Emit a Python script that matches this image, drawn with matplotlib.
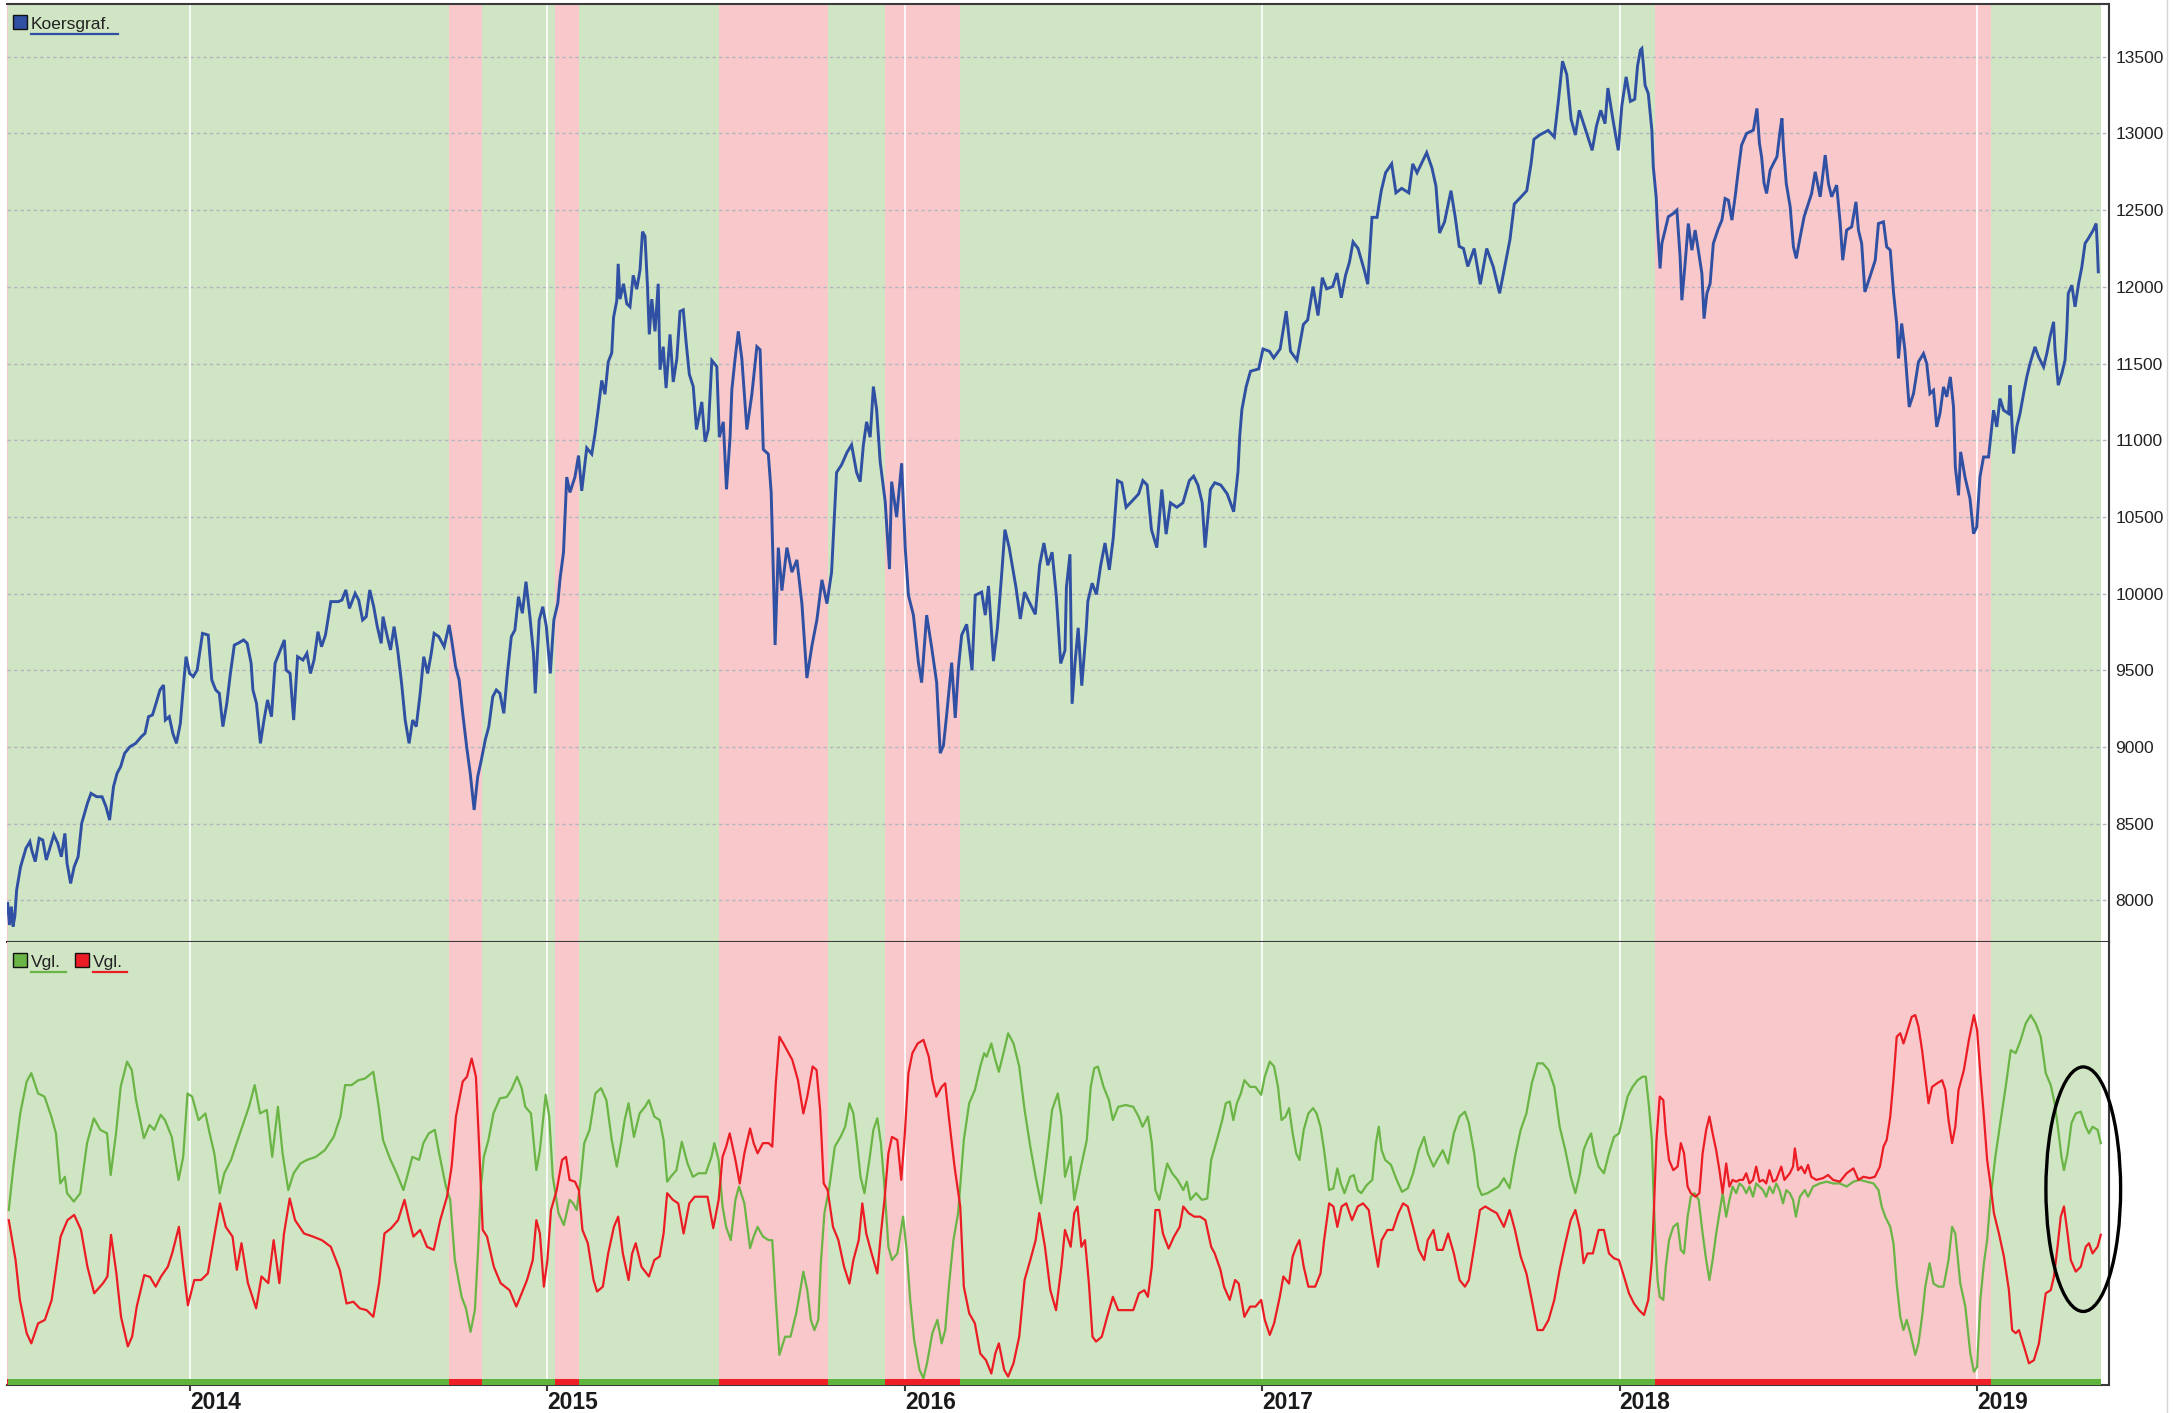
import matplotlib
matplotlib.use("Agg")
import matplotlib.pyplot as plt
from matplotlib.patches import Rectangle, Ellipse
from matplotlib.lines import Line2D
from matplotlib.transforms import blended_transform_factory

# ---------------- data (x in decimal years) ----------------
years = [2014, 2015, 2016, 2017, 2018, 2019]
price_ticks = [8000, 8500, 9000, 9500, 10000, 10500, 11000, 11500, 12000, 12500, 13000, 13500]

regime_start = [2013.486, 2013.490, 2014.724, 2014.818, 2015.022, 2015.089, 2015.481,
                2015.786, 2015.945, 2016.155, 2018.098, 2019.040]
regime_end = [2013.490, 2014.724, 2014.818, 2015.022, 2015.089, 2015.481, 2015.786,
              2015.945, 2016.155, 2018.098, 2019.040, 2019.346]
regime_state = ["down", "up", "down", "up", "down", "up", "down", "up", "down", "up", "down", "up"]

price_pts = [
(2013.490,7980),(2013.495,7840),(2013.500,7960),(2013.505,7830),(2013.510,7900),
(2013.515,8068),(2013.526,8220),(2013.541,8340),(2013.552,8383),(2013.557,8329),
(2013.567,8253),(2013.578,8405),(2013.588,8394),(2013.598,8264),(2013.609,8350),
(2013.619,8427),(2013.630,8372),(2013.640,8285),(2013.650,8437),(2013.656,8242),
(2013.666,8111),(2013.676,8220),(2013.687,8285),(2013.697,8503),(2013.713,8633),
(2013.723,8698),(2013.739,8676),(2013.754,8676),(2013.765,8611),(2013.775,8524),
(2013.786,8742),(2013.796,8829),(2013.806,8872),(2013.817,8959),(2013.832,9002),
(2013.848,9024),(2013.864,9068),(2013.874,9089),(2013.884,9198),(2013.895,9209),
(2013.905,9285),(2013.916,9372),(2013.926,9404),(2013.931,9176),(2013.942,9198),
(2013.952,9089),(2013.962,9024),(2013.973,9154),(2013.983,9437),(2013.989,9589),
(2013.999,9480),(2014.009,9459),(2014.020,9502),(2014.035,9741),(2014.051,9730),
(2014.061,9437),(2014.072,9372),(2014.082,9350),(2014.092,9133),(2014.103,9285),
(2014.113,9480),(2014.124,9665),(2014.134,9676),(2014.150,9698),(2014.160,9676),
(2014.171,9546),(2014.176,9372),(2014.186,9285),(2014.197,9024),(2014.207,9176),
(2014.217,9307),(2014.228,9198),(2014.238,9546),(2014.249,9611),(2014.264,9698),
(2014.269,9502),(2014.280,9480),(2014.290,9176),(2014.301,9589),(2014.316,9567),
(2014.327,9611),(2014.337,9480),(2014.347,9567),(2014.358,9752),(2014.368,9654),
(2014.379,9730),(2014.394,9948),(2014.415,9948),(2014.425,9958),(2014.436,10024),
(2014.446,9904),(2014.462,10002),(2014.472,9958),(2014.483,9828),(2014.493,9850),
(2014.503,10024),(2014.514,9915),(2014.524,9785),(2014.535,9676),(2014.540,9850),
(2014.550,9741),(2014.561,9633),(2014.571,9785),(2014.581,9633),(2014.592,9415),
(2014.602,9176),(2014.613,9024),(2014.623,9176),(2014.633,9133),(2014.644,9350),
(2014.654,9589),(2014.665,9480),(2014.675,9611),(2014.683,9741),(2014.696,9720),
(2014.711,9654),(2014.725,9796),(2014.732,9698),(2014.743,9524),(2014.753,9437),
(2014.763,9220),(2014.774,9002),(2014.784,8829),(2014.795,8590),(2014.805,8807),
(2014.815,8915),(2014.826,9046),(2014.836,9133),(2014.847,9328),(2014.857,9372),
(2014.867,9350),(2014.878,9220),(2014.888,9480),(2014.899,9720),(2014.909,9763),
(2014.919,9980),(2014.930,9872),(2014.940,10078),(2014.951,9850),(2014.961,9611),
(2014.966,9350),(2014.977,9828),(2014.987,9915),(2014.997,9785),(2015.008,9480),
(2015.018,9828),(2015.029,9937),(2015.035,10090),
(2015.045,10270),(2015.054,10760),(2015.063,10660),(2015.077,10760),(2015.087,10900),
(2015.096,10670),(2015.110,10950),(2015.124,10910),(2015.133,11040),(2015.142,11200),
(2015.152,11390),(2015.161,11300),(2015.170,11510),(2015.180,11570),(2015.185,11800),
(2015.194,11910),(2015.198,12150),(2015.203,11920),(2015.213,12020),(2015.222,11890),
(2015.231,11870),(2015.240,12075),(2015.250,11985),(2015.259,12110),(2015.266,12360),
(2015.273,12330),(2015.280,12000),(2015.285,11690),(2015.292,11920),(2015.301,11710),
(2015.310,12020),(2015.315,11460),(2015.324,11610),(2015.332,11340),(2015.343,11690),
(2015.352,11380),(2015.362,11530),(2015.371,11840),(2015.380,11850),(2015.388,11640),
(2015.397,11430),(2015.408,11350),(2015.417,11070),(2015.432,11250),(2015.441,10990),
(2015.450,11070),(2015.460,11520),(2015.474,11480),(2015.481,11020),(2015.492,11120),
(2015.501,10680),(2015.511,11020),(2015.516,11330),(2015.525,11530),(2015.534,11710),
(2015.544,11530),(2015.558,11070),(2015.572,11300),(2015.586,11610),(2015.595,11590),
(2015.604,10940),(2015.618,10910),(2015.626,10660),(2015.632,10140),(2015.637,9665),
(2015.646,10300),(2015.656,10020),(2015.670,10300),(2015.684,10140),(2015.698,10220),
(2015.712,9935),(2015.726,9450),(2015.740,9660),(2015.754,9830),(2015.768,10090),
(2015.782,9935),(2015.795,10140),(2015.809,10790),(2015.823,10840),(2015.838,10920),
(2015.851,10970),(2015.865,10790),(2015.875,10730),(2015.884,10970),(2015.893,11120),
(2015.903,11020),(2015.912,11350),(2015.921,11200),(2015.931,10860),(2015.945,10600),
(2015.957,10160),(2015.963,10730),(2015.977,10500),(2015.991,10850),(2016.001,10300),
(2016.010,9990),(2016.024,9860),(2016.038,9550),(2016.047,9420),(2016.061,9860),
(2016.075,9650),(2016.089,9420),(2016.099,8960),(2016.108,9010),(2016.117,9210),
(2016.131,9550),(2016.141,9190),(2016.150,9520),(2016.159,9730),(2016.173,9800),
(2016.188,9500),(2016.197,9990),(2016.215,10010),(2016.225,9860),(2016.234,10050),
(2016.248,9560),
(2016.259,9777),(2016.270,10097),(2016.280,10417),(2016.292,10300),(2016.311,10040),
(2016.323,9835),(2016.335,10010),(2016.347,9950),(2016.365,9865),(2016.377,10185),
(2016.389,10330),(2016.400,10185),(2016.412,10270),(2016.424,9980),(2016.436,9545),
(2016.448,9630),(2016.452,10040),(2016.462,10257),(2016.468,9282),(2016.476,9545),
(2016.485,9777),(2016.495,9400),(2016.507,9750),(2016.512,9950),(2016.524,10068),
(2016.536,9995),(2016.548,10185),(2016.560,10330),(2016.572,10155),(2016.583,10360),
(2016.595,10737),(2016.607,10723),(2016.619,10563),(2016.637,10607),(2016.654,10650),
(2016.666,10737),(2016.678,10708),(2016.690,10417),(2016.705,10300),(2016.719,10679),
(2016.731,10388),(2016.743,10592),(2016.761,10563),(2016.778,10592),(2016.796,10737),
(2016.808,10766),(2016.820,10708),(2016.832,10592),(2016.840,10300),(2016.855,10679),
(2016.867,10723),(2016.884,10708),(2016.902,10650),(2016.920,10534),(2016.932,10795),
(2016.937,11028),(2016.943,11200),(2016.955,11350),(2016.967,11450),(2016.990,11465),
(2017.002,11595),(2017.020,11580),(2017.032,11537),(2017.050,11595),(2017.067,11842),
(2017.079,11580),(2017.097,11522),(2017.115,11755),(2017.127,11784),(2017.142,12002),
(2017.156,11813),(2017.168,12060),(2017.180,11987),(2017.197,12002),(2017.209,12090),
(2017.221,11929),(2017.233,12075),(2017.244,12162),(2017.254,12293),(2017.268,12250),
(2017.286,12104),(2017.295,12017),(2017.307,12453),(2017.321,12453),(2017.333,12627),
(2017.345,12744),(2017.362,12802),(2017.374,12613),(2017.390,12642),(2017.410,12613),
(2017.421,12802),(2017.433,12744),(2017.445,12802),(2017.460,12875),(2017.475,12773),
(2017.486,12656),(2017.496,12351),(2017.510,12424),(2017.528,12627),(2017.540,12453),
(2017.551,12264),(2017.563,12250),(2017.575,12133),(2017.593,12250),(2017.610,12017),
(2017.628,12250),(2017.646,12133),(2017.664,11958),(2017.676,12104),(2017.693,12308),
(2017.705,12540),(2017.723,12584),(2017.740,12627),(2017.752,12802),(2017.760,12962),
(2017.776,12990),(2017.800,13020),(2017.817,12977),(2017.829,13223),(2017.840,13471),
(2017.852,13384),(2017.864,13093),(2017.876,12990),(2017.887,13151),(2017.905,13020),
(2017.923,12890),(2017.935,13049),(2017.947,13151),(2017.959,13064),(2017.967,13296),
(2017.982,13078),(2017.996,12890),(2018.006,13180),(2018.018,13369),(2018.030,13209),
(2018.042,13223),(2018.050,13441),(2018.058,13544),(2018.062,13554),
(2018.066,13457),(2018.071,13315),(2018.080,13260),(2018.090,13022),(2018.094,12783),
(2018.102,12587),(2018.106,12391),(2018.113,12120),(2018.118,12283),(2018.127,12370),
(2018.136,12457),(2018.150,12478),(2018.160,12500),(2018.169,12196),(2018.174,11913),
(2018.183,12152),(2018.192,12413),(2018.202,12239),(2018.211,12370),(2018.220,12239),
(2018.230,12087),(2018.236,11793),(2018.244,11957),(2018.253,12022),(2018.262,12283),
(2018.276,12380),(2018.286,12435),(2018.295,12576),(2018.304,12565),(2018.314,12435),
(2018.323,12587),(2018.332,12761),(2018.341,12924),(2018.355,13000),(2018.374,13022),
(2018.384,13163),(2018.391,12935),(2018.397,12848),(2018.404,12674),(2018.411,12609),
(2018.421,12761),(2018.430,12804),(2018.440,12848),(2018.449,13022),(2018.454,13098),
(2018.458,12913),(2018.466,12674),(2018.477,12522),(2018.486,12261),(2018.494,12185),
(2018.505,12326),(2018.516,12457),(2018.528,12543),(2018.537,12609),(2018.547,12750),
(2018.561,12587),(2018.575,12859),(2018.584,12674),(2018.593,12587),(2018.607,12663),
(2018.617,12413),(2018.624,12174),(2018.635,12370),(2018.649,12391),(2018.661,12554),
(2018.668,12370),(2018.677,12283),(2018.686,11967),(2018.700,12065),(2018.715,12174),
(2018.724,12413),(2018.738,12424),(2018.747,12261),(2018.757,12239),(2018.766,11967),
(2018.775,11761),(2018.780,11533),(2018.789,11761),(2018.798,11587),(2018.810,11217),
(2018.822,11304),(2018.836,11511),(2018.850,11565),(2018.859,11500),(2018.868,11304),
(2018.878,11326),(2018.887,11087),(2018.896,11174),(2018.906,11348),(2018.915,11283),
(2018.925,11413),(2018.934,11217),(2018.939,10826),(2018.948,10641),(2018.954,10924),
(2018.966,10761),(2018.980,10620),(2018.990,10391),(2018.999,10435),(2019.008,10761),
(2019.018,10891),(2019.032,10891),(2019.046,11196),(2019.055,11087),(2019.064,11272),
(2019.074,11196),(2019.088,11174),(2019.092,11359),(2019.102,10913),(2019.111,11087),
(2019.120,11174),(2019.130,11304),(2019.139,11413),(2019.148,11500),(2019.162,11609),
(2019.172,11543),(2019.186,11478),(2019.195,11565),(2019.204,11674),(2019.214,11772),
(2019.218,11587),(2019.227,11359),(2019.237,11435),(2019.246,11522),(2019.251,11717),
(2019.255,11957),(2019.265,12011),(2019.274,11870),(2019.284,12022),(2019.293,12130),
(2019.302,12283),(2019.311,12315),(2019.325,12370),(2019.333,12413),(2019.336,12283),
(2019.339,12098),
]

green_pts = [
(2013.493,39.5),(2013.506,49.3),(2013.525,61.3),(2013.543,68.5),(2013.556,70.4),
(2013.575,65.8),(2013.593,65.1),(2013.612,60.6),(2013.625,56.8),(2013.637,45.5),
(2013.650,47.0),(2013.656,43.3),(2013.675,41.4),(2013.693,43.3),(2013.712,54.6),
(2013.731,60.2),(2013.749,57.6),(2013.768,56.8),(2013.778,47.4),(2013.793,56.8),
(2013.806,67.3),(2013.824,73.0),(2013.837,71.1),(2013.849,64.3),(2013.871,55.7),
(2013.887,58.7),(2013.900,57.6),(2013.918,61.0),(2013.930,59.8),(2013.949,56.0),
(2013.968,46.3),(2013.981,51.5),(2013.993,65.8),(2014.006,65.1),(2014.024,59.8),
(2014.043,61.3),(2014.055,56.8),(2014.068,52.3),(2014.083,43.3),(2014.096,47.8),
(2014.115,50.8),(2014.127,53.8),(2014.146,58.3),(2014.165,62.8),(2014.181,67.7),
(2014.196,61.3),(2014.215,62.1),(2014.230,51.5),(2014.246,62.8),(2014.259,52.3),
(2014.275,44.0),(2014.290,47.8),(2014.309,50.0),(2014.327,50.8),(2014.352,51.5),
(2014.377,53.0),(2014.402,56.0),(2014.421,60.6),(2014.434,67.7),(2014.452,67.7),
(2014.471,68.8),(2014.490,69.2),(2014.513,70.7),(2014.528,62.8),(2014.540,55.3),
(2014.559,51.2),(2014.578,47.8),(2014.597,44.0),(2014.610,47.8),(2014.622,51.5),
(2014.641,50.8),(2014.653,54.6),(2014.668,56.8),(2014.685,57.6),(2014.697,52.3),
(2014.716,44.8),(2014.728,41.8),(2014.741,28.2),(2014.760,19.9),(2014.772,17.3),
(2014.785,12.0),(2014.797,16.9),(2014.806,30.5),(2014.814,44.8),(2014.822,51.5),
(2014.835,55.3),(2014.849,61.3),(2014.867,64.7),(2014.886,65.0),(2014.899,66.6),
(2014.915,69.6),
(2014.928,67.0),(2014.938,62.8),(2014.954,61.3),(2014.969,48.5),(2014.979,53.0),
(2014.995,65.5),(2015.005,60.6),(2015.015,47.0),(2015.031,38.8),(2015.046,36.1),
(2015.062,41.8),(2015.072,41.0),(2015.082,39.5),(2015.093,46.3),(2015.103,54.6),
(2015.118,57.6),(2015.134,65.8),(2015.150,67.0),(2015.165,64.3),(2015.180,55.3),
(2015.194,49.3),(2015.206,54.6),(2015.216,59.8),(2015.227,63.6),(2015.242,56.0),
(2015.258,61.3),(2015.273,62.8),(2015.284,64.3),(2015.299,60.6),(2015.314,59.8),
(2015.325,55.3),(2015.335,45.9),(2015.345,47.0),(2015.361,48.5),(2015.376,54.9),
(2015.392,50.0),(2015.407,47.0),(2015.423,47.8),(2015.443,47.8),(2015.459,51.5),
(2015.467,54.6),(2015.479,50.8),(2015.490,40.3),(2015.500,35.7),(2015.513,32.7),
(2015.526,41.8),(2015.536,44.8),(2015.551,41.0),(2015.567,30.9),(2015.577,33.5),
(2015.588,35.7),(2015.603,33.5),(2015.619,32.7),(2015.629,32.7),(2015.639,19.2),
(2015.649,6.8),(2015.665,10.9),(2015.680,10.9),(2015.696,16.2),(2015.706,20.7),
(2015.716,25.6),(2015.727,21.4),(2015.737,14.7),(2015.747,12.4),(2015.758,14.7),
(2015.765,27.5),(2015.775,38.8),(2015.789,44.8),(2015.804,53.8),(2015.820,56.0),
(2015.833,58.3),(2015.845,63.6),(2015.856,61.3),(2015.866,54.6),(2015.876,47.0),
(2015.887,43.3),(2015.902,51.5),(2015.912,57.6),(2015.923,60.2),(2015.933,54.6),
(2015.943,44.8),(2015.954,31.2),(2015.964,28.2),(2015.979,29.7),(2015.995,38.0),
(2016.005,30.5),(2016.015,19.2),(2016.026,10.2),(2016.041,3.4),(2016.052,1.5),
(2016.062,4.9),(2016.077,11.7),(2016.091,14.7),(2016.103,9.4),(2016.113,12.4),
(2016.124,22.9),(2016.136,32.7),(2016.149,38.8),(2016.165,55.3),(2016.180,63.6),
(2016.196,66.6),(2016.211,71.9),(2016.222,74.9),(2016.229,74.1),(2016.242,77.1),
(2016.253,73.4),(2016.263,70.7),(2016.278,75.6),(2016.289,79.4),(2016.304,77.1),
(2016.320,71.9),(2016.335,62.1),(2016.351,53.8),(2016.366,47.0),(2016.381,41.0),
(2016.397,51.5),(2016.412,62.1),(2016.428,65.8),(2016.438,60.6),(2016.448,47.0),
(2016.464,51.5),(2016.474,41.8),
(2016.493,49.3),(2016.509,55.3),(2016.520,67.3),(2016.530,71.5),(2016.540,71.9),
(2016.556,67.3),(2016.571,64.3),(2016.582,59.8),(2016.597,62.8),(2016.618,63.2),
(2016.639,62.8),(2016.654,60.6),(2016.665,58.3),(2016.680,60.6),(2016.691,54.6),
(2016.701,44.0),(2016.712,41.8),(2016.724,46.3),(2016.734,50.0),(2016.748,47.8),
(2016.763,46.3),(2016.779,44.0),(2016.789,45.9),(2016.799,41.8),(2016.815,43.3),
(2016.831,41.8),(2016.846,42.1),(2016.857,50.8),(2016.873,55.3),(2016.888,59.8),
(2016.898,63.6),(2016.909,64.0),(2016.919,59.8),(2016.929,63.6),(2016.940,65.8),
(2016.950,68.8),(2016.966,67.3),(2016.981,67.3),(2016.997,65.5),(2017.007,69.6),
(2017.021,73.0),(2017.033,71.9),(2017.044,67.3),(2017.054,59.8),(2017.065,60.6),
(2017.075,62.5),(2017.085,56.8),(2017.095,52.3),(2017.104,50.8),(2017.116,57.6),
(2017.129,61.3),(2017.142,62.5),(2017.152,61.3),(2017.163,58.3),(2017.173,53.0),
(2017.187,44.0),(2017.199,44.4),(2017.210,48.9),(2017.220,45.5),(2017.230,43.3),
(2017.246,47.0),(2017.256,47.4),(2017.267,44.0),(2017.277,43.3),(2017.292,45.1),
(2017.308,46.3),(2017.318,54.6),(2017.326,58.3),(2017.334,53.0),(2017.344,50.8),
(2017.360,49.7),(2017.376,46.3),(2017.391,43.6),(2017.407,44.4),(2017.422,47.8),
(2017.438,53.0),(2017.453,56.0),(2017.463,52.3),(2017.479,49.3),(2017.489,50.8),
(2017.505,53.0),(2017.520,50.0),(2017.536,56.8),(2017.552,60.6),(2017.567,61.7),
(2017.578,59.1),(2017.593,52.3),(2017.604,44.8),(2017.614,42.9),(2017.630,43.3),
(2017.645,44.0),(2017.661,44.8),(2017.676,46.7),(2017.692,44.4),(2017.707,51.5),
(2017.723,57.6),(2017.739,61.3),(2017.754,68.1),(2017.770,72.6),(2017.785,72.6),
(2017.801,71.1),(2017.817,67.3),(2017.832,58.3),(2017.848,53.0),(2017.863,47.0),
(2017.876,43.3),(2017.889,47.8),(2017.899,53.0),(2017.910,55.3),(2017.920,56.8),
(2017.930,52.3),(2017.941,49.3),
(2017.956,47.8),(2017.970,52.3),(2017.984,56.0),(2017.998,56.8),(2018.007,59.8),
(2018.022,65.1),(2018.036,67.3),(2018.050,68.8),(2018.064,69.6),(2018.073,69.6),
(2018.082,62.8),(2018.090,55.3),(2018.094,44.8),(2018.099,34.2),(2018.106,23.7),
(2018.112,19.9),(2018.122,19.2),(2018.129,26.7),(2018.138,32.7),(2018.150,35.7),
(2018.162,36.5),(2018.171,30.5),(2018.180,29.7),(2018.190,38.0),(2018.199,42.5),
(2018.209,43.3),(2018.221,41.8),(2018.232,34.2),(2018.242,28.2),(2018.251,23.7),
(2018.260,28.2),(2018.270,34.2),(2018.279,38.8),(2018.288,43.3),(2018.298,38.0),
(2018.307,41.8),(2018.316,44.8),(2018.326,43.3),(2018.335,45.5),(2018.345,44.8),
(2018.354,43.3),(2018.363,44.8),(2018.373,42.5),(2018.382,45.5),(2018.391,44.8),
(2018.401,44.0),(2018.410,42.5),(2018.419,44.8),(2018.429,43.3),(2018.438,45.5),
(2018.447,44.0),(2018.457,41.0),(2018.466,44.0),(2018.476,43.3),(2018.485,41.8),
(2018.493,38.0),(2018.504,42.5),(2018.518,44.0),(2018.527,42.5),(2018.541,44.8),
(2018.560,45.5),(2018.579,45.9),(2018.597,45.5),(2018.616,45.5),(2018.635,44.8),
(2018.654,45.9),(2018.672,46.3),(2018.691,45.9),(2018.710,45.5),(2018.724,44.0),
(2018.733,40.3),(2018.743,38.0),(2018.757,35.7),(2018.766,32.0),(2018.775,22.9),
(2018.785,15.4),(2018.794,12.4),(2018.803,14.7),(2018.813,11.7),(2018.827,6.8),
(2018.836,9.4),(2018.846,15.4),(2018.855,22.2),(2018.867,27.5),(2018.878,22.9),
(2018.892,22.2),(2018.906,22.2),(2018.920,28.2),(2018.930,35.7),(2018.939,34.2),
(2018.953,22.9),(2018.967,17.7),(2018.981,7.1),(2018.991,3.0),(2019.000,4.1),
(2019.009,19.2),(2019.019,27.5),(2019.028,32.7),(2019.037,41.8),(2019.051,51.5),
(2019.066,59.8),(2019.080,67.3),(2019.094,75.6),(2019.108,74.9),(2019.122,77.9),
(2019.136,81.6),(2019.150,83.5),(2019.164,81.6),(2019.178,78.6),(2019.192,70.4),
(2019.206,67.7),(2019.217,63.6),(2019.227,57.6),(2019.236,51.5),(2019.243,48.5),
(2019.253,52.3),(2019.264,59.1),(2019.276,61.3),(2019.290,61.7),(2019.304,58.3),
(2019.313,56.8),(2019.323,58.3),(2019.337,57.6),(2019.346,54.6),
]

red_pts = [
(2013.493,37.2),(2013.512,28.2),(2013.524,19.2),(2013.543,11.7),(2013.556,9.4),
(2013.575,13.9),(2013.594,14.7),(2013.613,19.2),(2013.626,26.7),(2013.638,33.5),
(2013.657,37.2),(2013.676,38.4),(2013.695,35.0),(2013.713,26.7),(2013.732,20.7),
(2013.757,23.0),(2013.769,24.5),(2013.779,33.9),(2013.794,25.2),(2013.807,15.4),
(2013.826,8.7),(2013.838,10.9),(2013.851,17.7),(2013.872,24.8),(2013.888,24.4),
(2013.904,22.2),(2013.919,24.5),(2013.938,26.7),(2013.950,29.7),(2013.969,35.7),
(2013.981,26.7),(2013.994,18.0),(2014.012,23.7),(2014.031,23.7),(2014.050,25.2),
(2014.069,34.2),(2014.084,41.0),(2014.100,35.7),(2014.119,33.5),(2014.131,26.0),
(2014.144,32.0),(2014.162,23.0),(2014.185,17.3),(2014.200,24.5),(2014.219,23.0),
(2014.234,32.7),(2014.250,23.0),(2014.263,34.2),(2014.279,42.1),(2014.294,37.2),
(2014.319,34.2),(2014.344,33.5),(2014.369,32.7),(2014.394,31.2),(2014.419,26.0),
(2014.438,18.4),(2014.457,18.8),(2014.475,17.3),(2014.494,16.9),(2014.513,15.4),
(2014.529,23.0),(2014.544,34.2),(2014.563,35.4),(2014.582,37.2),(2014.600,41.8),
(2014.613,37.2),(2014.625,33.5),(2014.644,35.0),(2014.663,31.2),(2014.682,30.5),
(2014.700,37.2),(2014.719,42.5),(2014.732,49.3),(2014.744,60.6),(2014.763,68.5),
(2014.775,69.6),(2014.788,73.7),(2014.800,69.6),(2014.809,53.8),(2014.819,35.0),
(2014.831,33.5),(2014.850,26.7),(2014.869,23.0),(2014.894,21.4),(2014.913,17.7),
(2014.928,20.7),(2014.943,23.7),(2014.959,28.2),(2014.969,37.2),(2014.979,34.2),
(2014.990,22.2),(2015.000,28.2),(2015.010,39.5),(2015.026,44.0),(2015.041,50.8),
(2015.052,51.5),(2015.062,46.3),(2015.077,45.9),(2015.088,44.0),(2015.098,35.0),
(2015.113,32.0),(2015.129,23.7),(2015.139,21.1),(2015.155,22.2),(2015.170,29.7),
(2015.186,35.7),(2015.198,38.0),(2015.211,29.7),(2015.227,23.7),(2015.237,29.7),
(2015.247,32.0),(2015.263,26.7),(2015.284,24.5),(2015.299,28.2),(2015.314,29.0),
(2015.325,34.2),(2015.335,43.3),(2015.351,41.8),(2015.366,41.0),(2015.381,34.2),
(2015.397,41.0),(2015.412,42.5),(2015.433,42.5),(2015.448,42.5),(2015.464,35.4),
(2015.479,41.8),(2015.490,51.5),(2015.500,53.8),(2015.510,56.8),(2015.526,50.8),
(2015.538,45.5),(2015.551,52.3),(2015.567,57.9),(2015.577,54.6),(2015.588,52.3),
(2015.603,54.6),(2015.619,54.6),(2015.629,53.8),(2015.639,68.1),(2015.649,78.6),
(2015.660,77.1),(2015.670,75.6),(2015.685,73.4),(2015.701,68.8),(2015.716,61.3),
(2015.727,65.1),(2015.742,71.9),(2015.753,71.1),(2015.763,62.1),(2015.773,45.5),
(2015.784,44.0),(2015.799,35.7),(2015.814,32.7),(2015.830,26.7),(2015.845,22.9),
(2015.856,28.2),(2015.871,32.7),(2015.881,41.0),(2015.892,34.2),(2015.907,29.7),
(2015.923,25.2),(2015.933,34.2),(2015.943,41.8),(2015.954,52.3),(2015.964,56.0),
(2015.979,55.3),(2015.990,46.3),(2016.000,56.8),(2016.010,70.4),(2016.021,74.9),
(2016.036,77.1),(2016.052,77.9),(2016.067,74.1),(2016.077,68.8),(2016.088,65.1),
(2016.103,67.3),(2016.113,68.1),(2016.124,59.8),(2016.139,49.3),(2016.155,40.3),
(2016.165,22.2),(2016.180,16.2),(2016.196,13.9),(2016.211,7.1),(2016.227,5.6),
(2016.242,2.6),(2016.253,7.1),(2016.263,9.4),(2016.278,3.4),(2016.289,1.9),
(2016.304,4.9),(2016.320,10.9),(2016.335,23.7),(2016.351,28.2),(2016.366,32.7),
(2016.376,38.8),(2016.392,31.2),(2016.407,21.4),(2016.423,16.9),(2016.438,26.7),
(2016.448,35.0),(2016.464,31.2),(2016.474,38.8),
(2016.483,40.3),(2016.494,31.2),(2016.504,32.7),(2016.515,22.9),(2016.525,10.9),
(2016.535,9.8),(2016.551,10.9),(2016.566,15.4),(2016.582,19.9),(2016.597,16.9),
(2016.618,16.9),(2016.639,16.9),(2016.655,20.7),(2016.670,21.4),(2016.680,19.9),
(2016.691,26.7),(2016.701,39.5),(2016.712,39.5),(2016.722,34.2),(2016.738,30.8),
(2016.753,33.5),(2016.769,35.7),(2016.779,40.3),(2016.794,38.8),(2016.810,38.0),
(2016.826,38.0),(2016.841,37.2),(2016.857,31.2),(2016.867,29.7),(2016.883,26.0),
(2016.893,22.2),(2016.909,19.2),(2016.924,23.7),(2016.934,22.9),(2016.950,15.4),
(2016.966,17.7),(2016.981,17.7),(2016.997,19.2),(2017.007,14.7),(2017.021,11.3),
(2017.033,13.9),(2017.049,19.9),(2017.059,24.5),(2017.075,22.9),(2017.085,29.0),
(2017.095,31.2),(2017.104,32.7),(2017.116,26.7),(2017.129,22.2),(2017.148,22.2),
(2017.163,25.2),(2017.173,32.7),(2017.187,41.0),(2017.199,40.3),(2017.210,35.7),
(2017.222,40.3),(2017.235,41.0),(2017.251,37.2),(2017.267,40.3),(2017.282,41.0),
(2017.298,39.5),(2017.308,34.2),(2017.324,26.7),(2017.334,32.7),(2017.350,35.0),
(2017.365,35.0),(2017.381,38.8),(2017.394,41.0),(2017.407,40.3),(2017.422,35.7),
(2017.438,30.5),(2017.453,28.2),(2017.463,32.7),(2017.479,35.0),(2017.489,30.5),
(2017.505,30.5),(2017.520,34.2),(2017.536,29.7),(2017.552,23.7),(2017.567,22.2),
(2017.578,23.7),(2017.593,31.2),(2017.609,39.5),(2017.624,40.3),(2017.640,39.5),
(2017.656,38.8),(2017.676,35.7),(2017.692,39.5),(2017.707,35.0),(2017.723,29.0),
(2017.739,25.2),(2017.754,19.2),(2017.770,12.4),(2017.785,12.4),(2017.801,14.7),
(2017.817,19.2),(2017.832,26.0),(2017.848,32.0),(2017.863,37.2),(2017.876,39.5),
(2017.889,35.0),(2017.899,27.5),(2017.910,29.7),(2017.925,29.7),(2017.941,35.0),
(2017.956,35.0),(2017.970,29.7),(2017.984,28.6),(2017.998,28.2),(2018.012,24.5),
(2018.026,20.7),(2018.040,18.4),(2018.054,16.9),(2018.068,15.8),(2018.080,19.2),
(2018.090,28.2),(2018.096,40.3),(2018.103,55.3),(2018.112,65.1),(2018.122,64.3),
(2018.129,56.8),(2018.138,50.8),(2018.150,48.5),(2018.162,49.3),(2018.171,54.6),
(2018.180,52.3),(2018.190,44.8),(2018.199,43.3),(2018.212,42.5),(2018.223,43.3),
(2018.232,52.3),(2018.242,57.6),(2018.251,60.6),(2018.260,56.8),(2018.270,53.0),
(2018.279,48.5),(2018.288,43.3),(2018.298,50.0),(2018.307,44.8),(2018.316,46.3),
(2018.326,45.9),(2018.335,46.3),(2018.345,46.3),(2018.354,47.8),(2018.363,45.5),
(2018.373,46.3),(2018.382,49.3),(2018.391,45.9),(2018.401,46.3),(2018.410,45.5),
(2018.419,48.5),(2018.429,45.9),(2018.438,46.3),(2018.452,49.3),(2018.461,46.3),
(2018.476,47.8),(2018.485,49.3),(2018.490,53.4),(2018.499,48.5),(2018.508,49.3),
(2018.518,47.8),(2018.527,49.7),(2018.536,47.0),(2018.550,46.3),(2018.569,46.7),
(2018.583,47.4),(2018.597,46.3),(2018.616,45.9),(2018.635,47.8),(2018.654,48.9),
(2018.668,46.3),(2018.682,47.0),(2018.700,46.7),(2018.714,47.0),(2018.728,49.3),
(2018.738,53.8),(2018.747,55.3),(2018.757,60.6),(2018.766,68.8),(2018.775,78.6),
(2018.785,79.4),(2018.794,77.1),(2018.803,79.4),(2018.817,83.1),(2018.827,83.5),
(2018.836,80.9),(2018.846,75.6),(2018.855,69.6),(2018.864,63.6),(2018.874,67.3),
(2018.888,68.1),(2018.902,68.8),(2018.911,66.6),(2018.920,59.8),(2018.930,54.6),
(2018.939,58.3),(2018.948,66.6),(2018.963,71.1),(2018.977,77.9),(2018.991,83.5),
(2019.000,80.1),(2019.009,70.4),(2019.019,60.6),(2019.028,50.8),(2019.037,45.5),
(2019.047,38.8),(2019.061,34.2),(2019.075,29.0),(2019.089,21.4),(2019.098,12.4),
(2019.108,11.7),(2019.117,12.4),(2019.131,8.7),(2019.145,4.9),(2019.159,5.6),
(2019.173,9.4),(2019.183,15.4),(2019.192,20.7),(2019.206,21.4),(2019.215,24.5),
(2019.225,31.2),(2019.234,38.0),(2019.243,40.3),(2019.253,34.2),(2019.262,28.2),
(2019.276,25.6),(2019.290,26.7),(2019.304,31.2),(2019.313,32.0),(2019.323,29.7),
(2019.337,31.2),(2019.346,33.9),
]

price_t, price_v = zip(*price_pts)
green_t, green_v = zip(*green_pts)
red_t, red_v = zip(*red_pts)

# ---------------- style ----------------
plt.rcParams['font.family'] = ['Liberation Sans', 'DejaVu Sans']
BG_UP, BG_DOWN = '#d0e5c3', '#f8c8cb'
BAR_UP, BAR_DOWN = '#5fb43d', '#ee1f26'
BLUE, GREEN, RED = '#2f50a3', '#6ab545', '#ec1c24'
SPINE = '#3a3a3a'

W, H = 2174, 1413
fig = plt.figure(figsize=(W / 100, H / 100), dpi=100)
fig.patch.set_facecolor('white')

L, R = 7, 2109
ax1 = fig.add_axes([L / W, 1 - 942 / H, (R - L) / W, 938 / H])
ax2 = fig.add_axes([L / W, 1 - 1385 / H, (R - L) / W, 443 / H])

XMIN, XMAX = 2013.488, 2019.369
for ax in (ax1, ax2):
    ax.set_xlim(XMIN, XMAX)
    ax.set_facecolor('white')
    for s, e, st in zip(regime_start, regime_end, regime_state):
        ax.axvspan(s, e, color=BG_UP if st == 'up' else BG_DOWN, lw=0, zorder=0)
    for y in years:
        ax.axvline(y, color='white', lw=1.2, zorder=1)
    ax.spines['left'].set_visible(False)
    for sp in ('top', 'right', 'bottom'):
        ax.spines[sp].set_color(SPINE)
        ax.spines[sp].set_linewidth(1.5)

# bottom regime bar
for s, e, st in zip(regime_start, regime_end, regime_state):
    ax2.axvspan(s, e, ymin=0, ymax=0.0135, color=BAR_UP if st == 'up' else BAR_DOWN,
                lw=0, zorder=4)

# ---------------- upper panel ----------------
ax1.set_ylim(7729, 13844)
ax1.plot(price_t, price_v, color=BLUE, lw=2.1, zorder=3, solid_joinstyle='miter')
ax1.set_yticks(price_ticks)
ax1.set_yticklabels([str(v) for v in price_ticks])
ax1.yaxis.tick_right()
ax1.tick_params(axis='y', length=0, pad=4.5, labelsize=12.5, labelcolor='#222222')
ax1.tick_params(axis='x', bottom=False, labelbottom=False)
ax1.set_axisbelow(True)
ax1.grid(axis='y', color='#b4b6bf', lw=1.0, ls=(0, (2.5, 2.2)))

# ---------------- lower panel ----------------
ax2.set_ylim(0, 100)
ax2.plot(green_t, green_v, color=GREEN, lw=1.6, zorder=3)
ax2.plot(red_t, red_v, color=RED, lw=1.6, zorder=3)
ax2.set_yticks([])
ax2.spines['top'].set_visible(False)
ax2.set_xticks(years)
ax2.set_xticklabels([])
ax2.tick_params(axis='x', length=4, width=1.5, color=SPINE)

trans = blended_transform_factory(ax2.transData, fig.transFigure)
for y in years:
    ax2.text(y, 1 - 1391 / H, str(y), transform=trans, ha='left', va='top',
             fontsize=16.5, fontweight='bold', color='#1a1a1a', clip_on=False)

ax2.add_patch(Ellipse((2019.297, 44.2), 0.209, 55.2, fill=False, ec='black', lw=2.4,
                      clip_on=False, zorder=6))

# ---------------- legends ----------------
def fx(x):
    return x / W

def fy(y):
    return 1 - y / H

def legend_item(x, y_top, color, label, underline_end):
    fig.add_artist(Rectangle((fx(x), fy(y_top + 14)), 14 / W, 14 / H, transform=fig.transFigure,
                             facecolor=color, edgecolor='#111111', lw=1.0))
    fig.text(fx(x + 18), fy(y_top + 14), label, fontsize=12.5, color='#222222',
             ha='left', va='baseline')
    fig.add_artist(Line2D([fx(x + 18), fx(underline_end)], [fy(y_top + 19)] * 2,
                          transform=fig.transFigure, color=color, lw=1.6))

legend_item(13, 15, BLUE, 'Koersgraf.', 118)
legend_item(13, 953, GREEN, 'Vgl.', 66)
legend_item(75, 953, RED, 'Vgl.', 127)

fig.add_artist(Line2D([fx(2167)] * 2, [0, 1], transform=fig.transFigure, color='#d4d4d4', lw=1.0))

fig.savefig('out.png', dpi=100, facecolor='white')
